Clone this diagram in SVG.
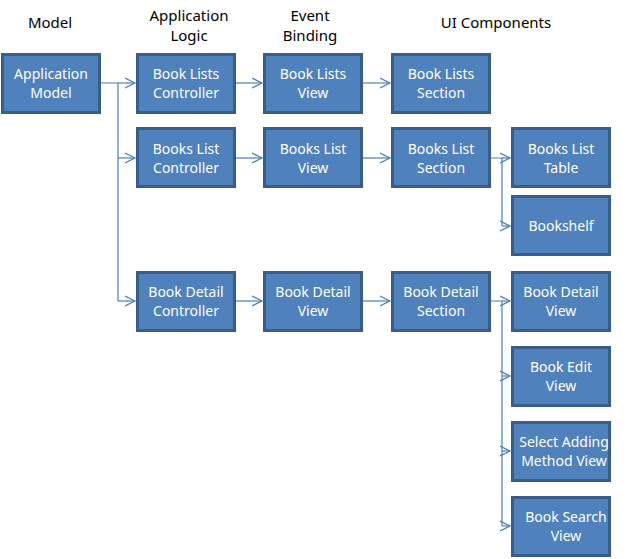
<svg xmlns="http://www.w3.org/2000/svg" width="629" height="559" viewBox="0 0 629 559">
<defs>
<style>
.box{fill:#4F81BD;stroke:#385D8A;stroke-width:3}
.t{fill:#FFFFFF;font-family:"Noto Sans","DejaVu Sans",sans-serif;font-size:14px;text-anchor:middle}
.h{fill:#000000;font-family:"Noto Sans","DejaVu Sans",sans-serif;font-size:15px;text-anchor:middle}
.c{fill:none;stroke:#4A7EBB;stroke-width:1.2}
</style>
<marker id="arr" markerWidth="12" markerHeight="12" refX="10" refY="6" orient="auto" markerUnits="userSpaceOnUse">
<path d="M0,1 L10,6 L0,11" fill="none" stroke="#4A7EBB" stroke-width="1.2"/>
</marker>
</defs>
<rect width="629" height="559" fill="#FFFFFF"/>
<g id="headers">
<text class="h" x="50" y="28">Model</text>
<text class="h" x="189" y="21">Application</text>
<text class="h" x="189" y="41">Logic</text>
<text class="h" x="310" y="21">Event</text>
<text class="h" x="310" y="41">Binding</text>
<text class="h" x="496" y="28">UI Components</text>
</g>
<g id="connectors">
<path class="c" d="M100,83 H118 V301"/>
<path class="c" d="M118,83 H135" marker-end="url(#arr)"/>
<path class="c" d="M118,158 H135" marker-end="url(#arr)"/>
<path class="c" d="M118,301 H135" marker-end="url(#arr)"/>
<path class="c" d="M235,83 H262" marker-end="url(#arr)"/>
<path class="c" d="M363,83 H390" marker-end="url(#arr)"/>
<path class="c" d="M235,158 H262" marker-end="url(#arr)"/>
<path class="c" d="M363,158 H390" marker-end="url(#arr)"/>
<path class="c" d="M235,301 H262" marker-end="url(#arr)"/>
<path class="c" d="M363,301 H390" marker-end="url(#arr)"/>
<path class="c" d="M491,158 H502 V226"/>
<path class="c" d="M502,158 H510" marker-end="url(#arr)"/>
<path class="c" d="M502,226 H510" marker-end="url(#arr)"/>
<path class="c" d="M491,301 H502 V526"/>
<path class="c" d="M502,301 H510" marker-end="url(#arr)"/>
<path class="c" d="M502,376 H510" marker-end="url(#arr)"/>
<path class="c" d="M502,451 H510" marker-end="url(#arr)"/>
<path class="c" d="M502,526 H510" marker-end="url(#arr)"/>
</g>
<g id="application-model"><rect class="box" x="2.5" y="54.5" width="97" height="58"/><text class="t" x="51" y="79">Application</text><text class="t" x="51" y="98">Model</text></g>
<g id="book-lists-controller"><rect class="box" x="137.5" y="54.5" width="97" height="58"/><text class="t" x="186" y="79">Book Lists</text><text class="t" x="186" y="98">Controller</text></g>
<g id="book-lists-view"><rect class="box" x="264.5" y="54.5" width="97" height="58"/><text class="t" x="313" y="79">Book Lists</text><text class="t" x="313" y="98">View</text></g>
<g id="book-lists-section"><rect class="box" x="392.5" y="54.5" width="97" height="58"/><text class="t" x="441" y="79">Book Lists</text><text class="t" x="441" y="98">Section</text></g>
<g id="books-list-controller"><rect class="box" x="137.5" y="128.5" width="97" height="58"/><text class="t" x="186" y="154">Books List</text><text class="t" x="186" y="173">Controller</text></g>
<g id="books-list-view"><rect class="box" x="264.5" y="128.5" width="97" height="58"/><text class="t" x="313" y="154">Books List</text><text class="t" x="313" y="173">View</text></g>
<g id="books-list-section"><rect class="box" x="392.5" y="128.5" width="97" height="58"/><text class="t" x="441" y="154">Books List</text><text class="t" x="441" y="173">Section</text></g>
<g id="books-list-table"><rect class="box" x="512.5" y="128.5" width="97" height="58"/><text class="t" x="561" y="154">Books List</text><text class="t" x="561" y="173">Table</text></g>
<g id="bookshelf"><rect class="box" x="512.5" y="196.5" width="97" height="58"/><text class="t" x="561" y="231">Bookshelf</text></g>
<g id="book-detail-controller"><rect class="box" x="137.5" y="272.5" width="97" height="58"/><text class="t" x="186" y="297">Book Detail</text><text class="t" x="186" y="316">Controller</text></g>
<g id="book-detail-view-eb"><rect class="box" x="264.5" y="272.5" width="97" height="58"/><text class="t" x="313" y="297">Book Detail</text><text class="t" x="313" y="316">View</text></g>
<g id="book-detail-section"><rect class="box" x="392.5" y="272.5" width="97" height="58"/><text class="t" x="441" y="297">Book Detail</text><text class="t" x="441" y="316">Section</text></g>
<g id="book-detail-view"><rect class="box" x="512.5" y="272.5" width="97" height="58"/><text class="t" x="561" y="297">Book Detail</text><text class="t" x="561" y="316">View</text></g>
<g id="book-edit-view"><rect class="box" x="512.5" y="347.5" width="97" height="58"/><text class="t" x="561" y="372">Book Edit</text><text class="t" x="561" y="391">View</text></g>
<g id="select-adding-method-view"><rect class="box" x="512.5" y="422.5" width="97" height="58"/><text class="t" x="564" y="447">Select Adding</text><text class="t" x="564" y="466">Method View</text></g>
<g id="book-search-view"><rect class="box" x="512.5" y="497.5" width="97" height="58"/><text class="t" x="566" y="522">Book Search</text><text class="t" x="566" y="541">View</text></g>
</svg>
